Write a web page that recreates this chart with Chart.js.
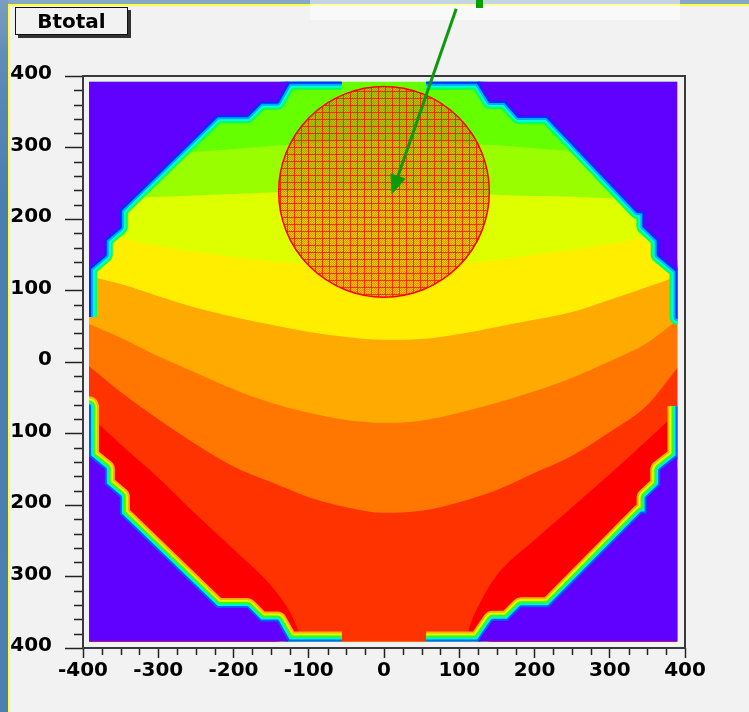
<!DOCTYPE html>
<html>
<head>
<meta charset="utf-8">
<script src="https://cdn.jsdelivr.net/npm/chart.js@4.4.1/dist/chart.umd.min.js"></script>
<style>
  html, body { margin: 0; padding: 0; background: #f2f2f2; }
  #wrap { position: relative; width: 749px; height: 712px; overflow: hidden; }
  #wrap canvas { position: absolute; left: 0; top: 0; z-index: 2; }
  .deco { position: absolute; pointer-events: none; }
  #label {
    position: absolute; left: 15px; top: 7px; width: 111px; height: 26px;
    border: 1px solid #111; box-shadow: 3px 3px 0 #333; background: #f2f2f2;
    font: bold 20px "DejaVu Sans", sans-serif; line-height: 26px; text-align: center;
    color: #000; z-index: 3;
  }
</style>
</head>
<body>
<div id="wrap">
  <div class="deco" style="left:0;top:0;width:749px;height:4px;background:#86a8c8;z-index:0"></div>
  <div class="deco" style="left:8px;top:4px;width:741px;height:2px;background:#ffff3a;z-index:0"></div>
  <div class="deco" style="left:310px;top:0;width:370px;height:20px;background:rgba(255,255,255,0.5);z-index:1"></div>
  <div class="deco" style="left:0;top:0;width:8px;height:712px;background:linear-gradient(180deg,#7b9dc0 0,#5f8bb8 60px,#4a7fb2 200px,#4b80b3 712px);z-index:3"></div>
  <div class="deco" style="left:8px;top:4px;width:2px;height:708px;background:#ffff3a;z-index:3"></div>
  <div class="deco" style="left:476px;top:0;width:7px;height:8px;background:#00a000;z-index:3"></div>
  <div id="label">Btotal</div>
  <canvas id="fieldMap" width="749" height="712"></canvas>
</div>
<script>
// histogram extent (data units)
const histX = [-392, 390];
const histTop = 392;
const histBottom = -391;

// contour level boundaries
const xGrid = [-392, -350, -300, -250, -200, -150, -100, -50, 0, 50, 100, 150, 200, 250, 300, 350, 390];
const levelGreenLime = [283, 287, 290, 294, 298, 302, 306, 309, 310, 309, 306, 303, 299, 295, 291, 287, 283];
const levelLimeChartreuse = [225, 228, 231, 233, 235, 237, 238.5, 239, 239, 238.5, 236, 234, 232, 231, 229, 227, 225];
const levelChartreuseYellow = [182, 173, 162, 154, 147, 141, 137, 134, 134, 134, 138, 143, 150, 157, 165, 175, 185];
const levelYellowAmber = [120, 109, 92, 76, 63, 52, 42, 35, 31, 32, 39, 49, 59, 70, 87, 105, 120];
const levelAmberOrange = [53, 34, 8, -15, -38, -57, -71, -81, -85, -82, -71, -57, -41, -22, 1, 27, 59];
const levelOrangeVermilion = [-6, -42, -80, -115, -146, -168, -189, -203, -211, -208, -196, -179, -155, -131, -98, -60, -8];
const redX = [-392, -350, -300, -250, -200, -150, -130, -118, -112, -110, 110, 112, 118, 130, 150, 200, 250, 300, 350, 390];
const redY = [-74, -115, -162, -213, -262, -313, -341, -365, -382, -391, -391, -378, -358, -332, -298, -249, -203, -157, -109, -70];

// outer rim of the field map (where it drops to the lowest level)
const rimTopLeft = [[-392, 63], [-392, 131], [-371, 150], [-371, 171], [-351, 189], [-351, 213], [-222, 345], [-182, 345], [-164, 364], [-142, 364], [-127, 392], [-56, 392]];
const rimTopRight = [[56, 392], [125, 392], [141, 365], [161, 365], [179, 344], [217, 344], [337, 211], [346, 211], [346, 190], [365, 171], [365, 150], [390, 128], [390, 63]];
const rimBottomLeft = [[-392, -62], [-392, -132], [-371, -150], [-371, -171], [-351, -189], [-351, -213], [-222, -344], [-182, -344], [-164, -363], [-142, -363], [-127, -391], [-56, -391]];
const rimBottomRight = [[56, -391], [125, -391], [144, -362], [164, -362], [182, -343], [219, -343], [342, -212], [349, -212], [349, -190], [367, -172], [367, -151], [390, -132], [390, -62]];

// marked spot and arrow
const spotCenter = [0, 238];
const spotRadius = 140;
const arrowFrom = [96, 494];
const arrowTo = [10, 234];

// axis ticks
const axisMin = -400, axisMax = 400, majorStep = 100;
const xMinorStep = 25, yMinorStep = 20;

const bandColors = ['#66ff00', '#99ff00', '#ddff00', '#ffee00', '#ffaa00', '#ff7700', '#ff3300', '#ff0000'];
const lowColor = '#6000ff';
const rimTopColors = ['#00ff60', '#00ffd0', '#00a8ff', '#0030ff'];       // inner -> outer
const rimBottomColors = ['#ffb000', '#d8ff00', '#30ff10', '#00f0e0', '#0060ff'];
const rimClip = { left: -6, top: -5.7, right: -7.5, bottom: -6.4 };

const pts = (xs, ys) => xs.map((x, i) => ({ x, y: ys[i] }));
const pairs = arr => arr.map(([x, y]) => ({ x, y }));

function hatch() {
  const c = document.createElement('canvas');
  c.width = c.height = 7;
  const g = c.getContext('2d');
  for (let i = 0; i < 7; i++) {
    for (let j = 0; j < 7; j++) {
      g.fillStyle = (i + j) % 2 ? 'rgba(240,120,0,0.25)' : 'rgba(240,95,0,0.75)';
      g.fillRect(i, j, 1, 1);
    }
  }
  g.fillStyle = 'rgba(250,20,0,0.8)';
  g.fillRect(0, 0, 7, 1);
  g.fillRect(0, 0, 1, 7);
  return g.createPattern(c, 'repeat');
}

const layers = [];
function band(data, color) {
  layers.push({ data, backgroundColor: color, borderWidth: 0, pointRadius: 0,
    cubicInterpolationMode: 'monotone', fill: { value: histBottom } });
}
band(pts(histX, [histTop, histTop]), bandColors[0]);
band(pts(xGrid, levelGreenLime), bandColors[1]);
band(pts(xGrid, levelLimeChartreuse), bandColors[2]);
band(pts(xGrid, levelChartreuseYellow), bandColors[3]);
band(pts(xGrid, levelYellowAmber), bandColors[4]);
band(pts(xGrid, levelAmberOrange), bandColors[5]);
band(pts(xGrid, levelOrangeVermilion), bandColors[6]);
band(pts(redX, redY), bandColors[7]);

function rim(points, colors, edge) {
  const n = colors.length, w = 2;
  colors.forEach((c, k) => {
    layers.push({ data: pairs(points), borderColor: c, borderWidth: 2 * w * (n - k),
      borderJoinStyle: 'round', pointRadius: 0, fill: false, clip: rimClip });
  });
  layers.push({ data: pairs(points), backgroundColor: lowColor, borderWidth: 0,
    pointRadius: 0, fill: { value: edge } });
}
rim(rimTopLeft, rimTopColors, histTop);
rim(rimTopRight, rimTopColors, histTop);
rim(rimBottomLeft, rimBottomColors, histBottom);
rim(rimBottomRight, rimBottomColors, histBottom);

layers.push({
  data: [{ x: spotCenter[0], y: spotCenter[1] }],
  showLine: false,
  pointStyle: 'circle',
  pointBackgroundColor: hatch(),
  pointBorderColor: '#ff0000',
  pointBorderWidth: 1.5,
  pointRadius: ctx => {
    const s = ctx.chart.scales.x;
    return s ? s.getPixelForValue(spotRadius) - s.getPixelForValue(0) : 0;
  }
});

// first pushed is drawn first (at the back)
layers.forEach((d, i) => { d.order = layers.length - i; });

const decorations = {
  id: 'decorations',
  afterDraw(chart) {
    const { ctx, chartArea: a, scales: { x, y } } = chart;
    ctx.save();
    ctx.strokeStyle = '#222';
    ctx.lineWidth = 1.5;
    ctx.beginPath();
    for (let v = axisMin; v <= axisMax; v += yMinorStep) {
      if (v % majorStep === 0) continue;
      const py = Math.round(y.getPixelForValue(v)) + 0.5;
      ctx.moveTo(a.left - 9, py);
      ctx.lineTo(a.left, py);
    }
    for (let v = axisMin; v <= axisMax; v += xMinorStep) {
      if (v % majorStep === 0) continue;
      const px = Math.round(x.getPixelForValue(v)) + 0.5;
      ctx.moveTo(px, a.bottom);
      ctx.lineTo(px, a.bottom + 7);
    }
    ctx.stroke();

    ctx.strokeStyle = '#3a3a3a';
    ctx.lineWidth = 2;
    ctx.strokeRect(a.left, a.top, a.right - a.left, a.bottom - a.top);

    // arrow
    const x0 = x.getPixelForValue(arrowFrom[0]), y0 = y.getPixelForValue(arrowFrom[1]);
    const x1 = x.getPixelForValue(arrowTo[0]), y1 = y.getPixelForValue(arrowTo[1]);
    const ang = Math.atan2(y1 - y0, x1 - x0);
    const head = 20, half = 8;
    const bx = x1 - head * Math.cos(ang), by = y1 - head * Math.sin(ang);
    ctx.strokeStyle = '#0a9a0a';
    ctx.fillStyle = '#0a9a0a';
    ctx.lineWidth = 3;
    ctx.beginPath();
    ctx.moveTo(x0, y0);
    ctx.lineTo(bx, by);
    ctx.stroke();
    ctx.beginPath();
    ctx.moveTo(x1, y1);
    ctx.lineTo(bx + half * Math.sin(ang), by - half * Math.cos(ang));
    ctx.lineTo(bx - half * Math.sin(ang), by + half * Math.cos(ang));
    ctx.closePath();
    ctx.fill();
    ctx.restore();
  }
};

const tickFont = { family: "'DejaVu Sans', sans-serif", weight: 'bold', size: 20 };

new Chart(document.getElementById('fieldMap'), {
  type: 'line',
  data: { datasets: layers },
  options: {
    responsive: false,
    animation: false,
    events: [],
    layout: { padding: { left: 0, top: 76, right: 64, bottom: 0 } },
    plugins: { legend: { display: false }, tooltip: { enabled: false } },
    scales: {
      x: {
        type: 'linear', min: axisMin, max: axisMax,
        afterFit: s => { s.height = 64; },
        border: { display: false },
        grid: { drawOnChartArea: false, tickLength: 10, tickColor: '#222', tickWidth: 1.5 },
        ticks: { stepSize: majorStep, autoSkip: false, maxRotation: 0, padding: 1, color: '#000', font: tickFont }
      },
      y: {
        type: 'linear', min: axisMin, max: axisMax,
        afterFit: s => { s.width = 83; },
        border: { display: false },
        grid: { drawOnChartArea: false, tickLength: 18, tickColor: '#222', tickWidth: 1.5 },
        ticks: { stepSize: majorStep, autoSkip: false, padding: 13, labelOffset: -2, color: '#000', font: tickFont }
      }
    }
  },
  plugins: [decorations]
});
</script>
</body>
</html>
